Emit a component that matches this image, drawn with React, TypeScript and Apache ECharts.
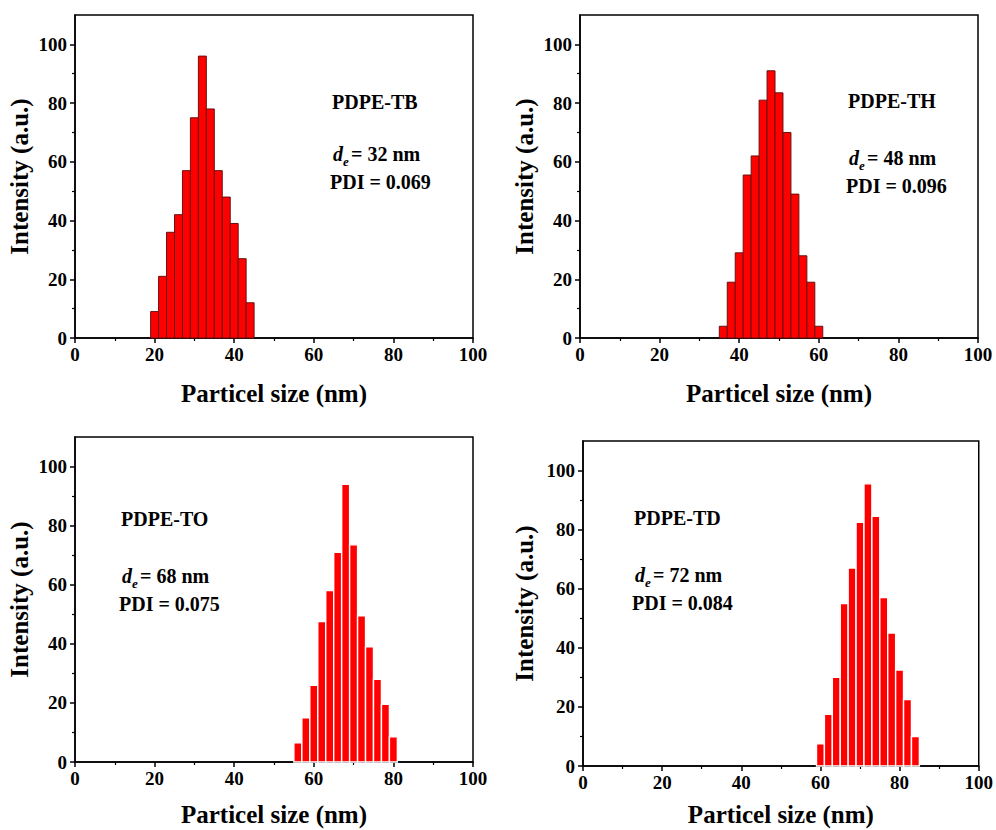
import React, { useEffect, useRef } from "react";
import * as echarts from "echarts";

// ---- data ----
const sizesTB = [20, 22, 24, 26, 28, 30, 32, 34, 36, 38, 40, 42, 44];
const valuesTB = [9, 21, 36, 42, 57, 75, 96, 78, 57, 48, 39, 27, 12];
const sizesTH = [36, 38, 40, 42, 44, 46, 48, 50, 52, 54, 56, 58, 60];
const valuesTH = [4, 19, 29, 55.5, 62, 81, 91, 83.5, 70, 49, 28, 19, 4];
const sizesTO = [56, 58, 60, 62, 64, 66, 68, 70, 72, 74, 76, 78, 80];
const valuesTO = [6.5, 15, 26, 47.5, 58, 71, 94, 73.5, 49.5, 39, 28, 19.5, 8.5];
const sizesTD = [60, 62, 64, 66, 68, 70, 72, 74, 76, 78, 80, 82, 84];
const valuesTD = [7.5, 17.5, 30, 55, 67, 82.5, 95.5, 84.5, 57, 45, 32.5, 22.5, 10];

const sampleNames = ["PDPE-TB", "PDPE-TH", "PDPE-TO", "PDPE-TD"];
const diameters = ["= 32 nm", "= 48 nm", "= 68 nm", "= 72 nm"];
const pdis = ["PDI = 0.069", "PDI = 0.096", "PDI = 0.075", "PDI = 0.084"];

const yMajorTicks = [0, 20, 40, 60, 80, 100];
const yMinorTicks = [10, 30, 50, 70, 90];
const xAxisName = "Particel size (nm)";
const yAxisName = "Intensity (a.u.)";

const FONT = "'Liberation Serif', 'Times New Roman', serif";

const panels = [
  { sizes: sizesTB, values: valuesTB, grid: { left: 75, top: 15, width: 398, height: 323 }, stroke: "#6b1010", lw: 1, text: { x: 332, y: [102, 154, 182] }, xGap: 43, yGap: 43 },
  { sizes: sizesTH, values: valuesTH, grid: { left: 580, top: 15, width: 398, height: 323 }, stroke: "#6b1010", lw: 1, text: { x: 848, y: [101, 158, 186] }, xGap: 43, yGap: 43 },
  { sizes: sizesTO, values: valuesTO, grid: { left: 75, top: 437, width: 398, height: 325 }, stroke: "#ffffff", lw: 1.4, text: { x: 121, y: [519, 576, 604] }, xGap: 40, yGap: 43 },
  { sizes: sizesTD, values: valuesTD, grid: { left: 583, top: 441, width: 397, height: 325 }, stroke: "#ffffff", lw: 1.4, text: { x: 634, y: [518, 575, 603] }, xGap: 36, yGap: 46 },
];

export default function App() {
  const ref = useRef<HTMLDivElement>(null);
  useEffect(() => {
    if (!ref.current) return;
    const chart = echarts.init(ref.current, null, { renderer: "svg" });

    const grids: any[] = [];
    const xAxes: any[] = [];
    const yAxes: any[] = [];
    const series: any[] = [];
    const graphics: any[] = [];

    panels.forEach((p, i) => {
      grids.push({ ...p.grid, show: true, borderColor: "#000", borderWidth: 1.5, backgroundColor: "transparent" });
      xAxes.push({
        type: "value",
        gridIndex: i,
        min: 0,
        max: 100,
        interval: 20,
        name: xAxisName,
        nameLocation: "middle",
        nameGap: p.xGap,
        nameTextStyle: { fontFamily: FONT, fontWeight: "bold", fontSize: 25, color: "#000" },
        axisLine: { show: true, lineStyle: { color: "#000", width: 1.5 } },
        axisTick: { show: true, length: 5, lineStyle: { color: "#000", width: 1.5 } },
        minorTick: { show: true, splitNumber: 2, length: 3, lineStyle: { color: "#000", width: 1.2 } },
        axisLabel: { fontFamily: FONT, fontWeight: "bold", fontSize: 19, color: "#000", margin: 7 },
        splitLine: { show: false },
        minorSplitLine: { show: false },
      });
      yAxes.push({
        type: "value",
        gridIndex: i,
        min: 0,
        max: 110,
        position: "left",
        name: yAxisName,
        nameLocation: "middle",
        nameGap: p.yGap,
        nameRotate: 90,
        nameTextStyle: { fontFamily: FONT, fontWeight: "bold", fontSize: 25, color: "#000" },
        axisLine: { show: true, lineStyle: { color: "#000", width: 1.5 } },
        axisTick: { show: true, length: 5, customValues: yMajorTicks, lineStyle: { color: "#000", width: 1.5 } },
        axisLabel: { customValues: yMajorTicks, fontFamily: FONT, fontWeight: "bold", fontSize: 19, color: "#000", margin: 8 },
        splitLine: { show: false },
      });
      yAxes.push({
        type: "value",
        gridIndex: i,
        min: 0,
        max: 110,
        position: "left",
        axisLine: { show: false },
        axisTick: { show: true, length: 3, customValues: yMinorTicks, lineStyle: { color: "#000", width: 1.2 } },
        axisLabel: { show: false },
        splitLine: { show: false },
      });
      series.push({
        type: "custom",
        xAxisIndex: i,
        yAxisIndex: i * 2,
        encode: { x: 0, y: 1 },
        data: p.sizes.map((s, k) => [s, p.values[k]]),
        renderItem: (params: any, api: any) => {
          const x = api.value(0);
          const y = api.value(1);
          const a = api.coord([x - 1, y]);
          const b = api.coord([x + 1, 0]);
          return {
            type: "rect",
            shape: { x: a[0], y: a[1], width: b[0] - a[0], height: b[1] - a[1] },
            style: { fill: "#ff0000", stroke: p.stroke, lineWidth: p.lw },
          };
        },
      });
      const tx = p.text.x;
      const [y1, y2, y3] = p.text.y;
      const f = `bold 20px ${FONT}`;
      graphics.push(
        { type: "text", x: tx, y: y1, style: { text: sampleNames[i], font: f, fill: "#000", verticalAlign: "middle" } },
        { type: "text", x: tx + 1, y: y2, style: { text: "d", font: `italic bold 20px ${FONT}`, fill: "#000", verticalAlign: "middle" } },
        { type: "text", x: tx + 11, y: y2 + 7, style: { text: "e", font: `italic bold 13px ${FONT}`, fill: "#000", verticalAlign: "middle" } },
        { type: "text", x: tx + 19, y: y2, style: { text: diameters[i], font: f, fill: "#000", verticalAlign: "middle" } },
        { type: "text", x: tx - 2, y: y3, style: { text: pdis[i], font: f, fill: "#000", verticalAlign: "middle" } }
      );
    });

    chart.setOption({
      animation: false,
      backgroundColor: "#fff",
      grid: grids,
      xAxis: xAxes,
      yAxis: yAxes,
      series,
      graphic: graphics,
    });
    return () => chart.dispose();
  }, []);

  return (
    <div
      ref={ref}
      style={{ position: "fixed", left: 0, top: 0, width: 996, height: 830, background: "#fff" }}
    />
  );
}
